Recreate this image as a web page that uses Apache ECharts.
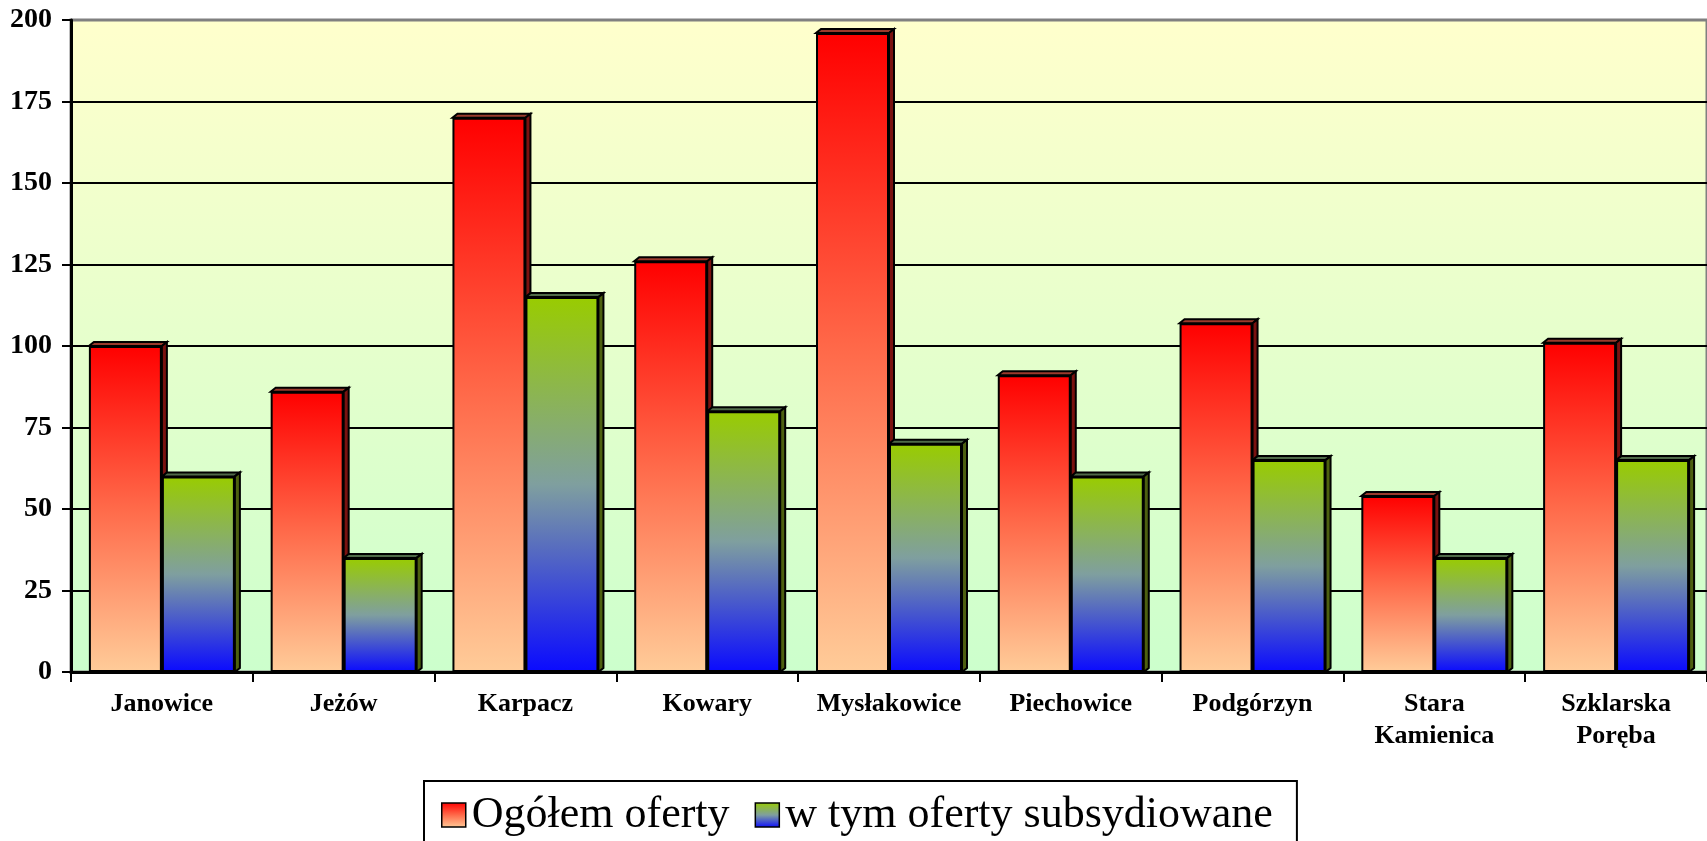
<!DOCTYPE html>
<html>
<head>
<meta charset="utf-8">
<script src="https://cdn.jsdelivr.net/npm/echarts@6/dist/echarts.min.js"></script>
<style>
  html, body { margin: 0; padding: 0; background: #fff; }
  #chart { width: 1707px; height: 841px; }
</style>
</head>
<body>
<div id="chart"></div>
<script>
const categories = ["Janowice", "Jeżów", "Karpacz", "Kowary", "Mysłakowice", "Piechowice", "Podgórzyn", "Stara\nKamienica", "Szklarska\nPoręba"]
const ogolem = [100, 86, 170, 126, 196, 91, 107, 54, 101]
const subsydiowane = [60, 35, 115, 80, 70, 60, 65, 35, 65]
const yTicks = { min: 0, max: 200, step: 25 }

const serif = "'Liberation Serif', 'Times New Roman', serif"
const BAR_W = 73
const DX = 5
const DY = 4

function vGradient(stops) {
  return {
    type: "linear", x: 0, y: 0, x2: 0, y2: 1,
    colorStops: stops.map((c, i) => ({ offset: i / (stops.length - 1), color: c }))
  }
}

const redFill = vGradient(["#ff0000", "#ff6a4a", "#ffcc99"])
const greenFill = vGradient(["#99cc00", "#7f9f9f", "#0a0aff"])

// top and side faces of the pseudo-3D bars, drawn behind the flat bars
function depthFaces(side, topColor, sideColor) {
  return function (params, api) {
    const top = api.coord([api.value(0), api.value(1)])
    const base = api.coord([api.value(0), 0])
    const x0 = side < 0 ? top[0] - BAR_W : top[0]
    const x1 = x0 + BAR_W
    const y = top[1]
    const edge = { stroke: "#000", lineWidth: 2, lineJoin: "miter" }
    return {
      type: "group",
      children: [
        {
          type: "polygon",
          shape: { points: [[x0, y], [x1, y], [x1 + DX, y - DY], [x0 + DX, y - DY]] },
          style: Object.assign({ fill: topColor }, edge)
        },
        {
          type: "polygon",
          shape: { points: [[x1, y], [x1 + DX, y - DY], [x1 + DX, base[1] - DY], [x1, base[1]]] },
          style: Object.assign({ fill: sideColor }, edge)
        }
      ]
    }
  }
}

const chart = echarts.init(document.getElementById("chart"), null, { renderer: "canvas" })

chart.setOption({
  animation: false,
  grid: {
    left: 71, right: 0, top: 20, bottom: 169,
    show: true,
    outerBoundsMode: "none",
    borderColor: "#808080",
    borderWidth: 3,
    backgroundColor: vGradient(["#ffffcc", "#ccffcc"])
  },
  legend: {
    left: 424,
    top: 781,
    padding: [12, 24, 40, 17],
    borderColor: "#000",
    borderWidth: 2,
    itemGap: 25,
    itemWidth: 24,
    itemHeight: 24,
    icon: "rect",
    itemStyle: { borderColor: "#000", borderWidth: 1.5 },
    textStyle: { fontFamily: serif, fontSize: 44, color: "#000", padding: [0, 0, 0, 1] },
    data: ["Ogółem oferty", "w tym oferty subsydiowane"]
  },
  xAxis: {
    type: "category",
    data: categories,
    axisLine: { lineStyle: { color: "#000", width: 3 } },
    axisTick: { show: true, interval: 0, length: 10, lineStyle: { color: "#000", width: 2 } },
    axisLabel: {
      interval: 0,
      margin: 16,
      color: "#000",
      fontFamily: serif,
      fontWeight: "bold",
      fontSize: 26,
      lineHeight: 32
    },
    splitLine: { show: false }
  },
  yAxis: {
    type: "value",
    min: yTicks.min,
    max: yTicks.max,
    interval: yTicks.step,
    axisLine: { show: true, lineStyle: { color: "#000", width: 3 } },
    axisTick: { show: true, length: 9, lineStyle: { color: "#000", width: 2 } },
    axisLabel: {
      margin: 19,
      color: "#000",
      fontFamily: serif,
      fontWeight: "bold",
      fontSize: 28
    },
    splitLine: { showMinLine: false, showMaxLine: false, lineStyle: { color: "#000", width: 2 } }
  },
  series: [
    {
      type: "custom",
      name: "ogolem-3d",
      z: 1,
      renderItem: depthFaces(-1, "#9a3a2c", "#7a1210"),
      data: ogolem.map((v, i) => [i, v]),
      encode: { x: 0, y: 1 },
      silent: true
    },
    {
      type: "custom",
      name: "subsydiowane-3d",
      z: 1,
      renderItem: depthFaces(1, "#4f6a48", "#4d6010"),
      data: subsydiowane.map((v, i) => [i, v]),
      encode: { x: 0, y: 1 },
      silent: true
    },
    {
      name: "Ogółem oferty",
      type: "bar",
      z: 2,
      data: ogolem,
      barWidth: BAR_W,
      barGap: "0%",
      itemStyle: { color: redFill, borderColor: "#000", borderWidth: 2 }
    },
    {
      name: "w tym oferty subsydiowane",
      type: "bar",
      z: 2,
      data: subsydiowane,
      barWidth: BAR_W,
      barGap: "0%",
      itemStyle: { color: greenFill, borderColor: "#000", borderWidth: 2 }
    }
  ]
})
</script>
</body>
</html>
